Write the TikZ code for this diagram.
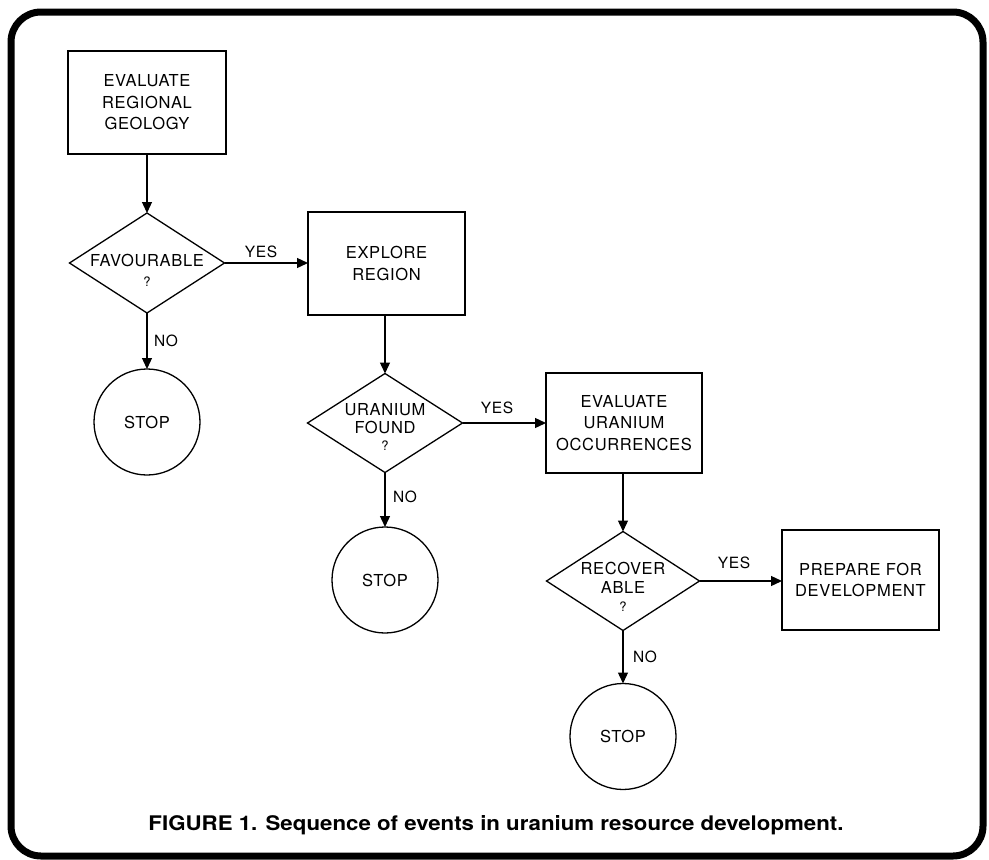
\documentclass[tikz,border=0pt]{standalone}
\usepackage{fontspec}
\setmainfont{TeX Gyre Heros}
\newfontfamily\boxfont{TeX Gyre Heros}[LetterSpace=4]
\newfontfamily\capfont{TeX Gyre Heros}
\usetikzlibrary{shapes.geometric,arrows.meta}
\begin{document}
\begin{tikzpicture}[x=1pt,y=-1pt,
  every node/.style={inner sep=0pt, outer sep=0pt},
  txt/.style={align=center, font=\boxfont\fontsize{16.5}{21.5}\selectfont},
  stepbox/.style={draw, line width=1.3pt, rectangle, txt},
  dia/.style={draw, line width=1.3pt, diamond},
  stopc/.style={draw, line width=1.3pt, circle, minimum size=106pt, txt},
  qmark/.style={font=\boxfont\fontsize{13}{13}\selectfont},
  lab/.style={font=\boxfont\fontsize{15.5}{15.5}\selectfont},
  arr/.style={line width=1.3pt, -{Triangle[length=11pt,width=10pt]}}
]
\useasboundingbox (0,0) rectangle (989,860);
\draw[line width=7pt, rounded corners=30pt] (11,12) rectangle (983,856);

% column 1
\node[stepbox, minimum width=158pt, minimum height=103pt] (b1) at (147,102.5) {EVALUATE\\REGIONAL\\GEOLOGY};
\node[dia, minimum width=155pt, minimum height=100pt] (d1) at (147,263) {};
\node[txt] (d1t) at (147,260) {FAVOURABLE};
\node[qmark] (d1q) at (147,282) {?};
\node[stopc] (c1) at (147,422) {STOP};

% column 2
\node[stepbox, minimum width=157pt, minimum height=103pt] (b2) at (386.5,263.5) {EXPLORE\\REGION};
\node[dia, minimum width=155pt, minimum height=99pt] (d2) at (385,423) {};
\node[txt, font=\boxfont\fontsize{16.5}{18}\selectfont] (d2t) at (385,419) {URANIUM\\FOUND};
\node[qmark] (d2q) at (385,446) {?};
\node[stopc] (c2) at (385,580) {STOP};

% column 3
\node[stepbox, minimum width=156pt, minimum height=100pt] (b3) at (624,423) {EVALUATE\\URANIUM\\OCCURRENCES};
\node[dia, minimum width=153pt, minimum height=99pt] (d3) at (623,581) {};
\node[txt, font=\boxfont\fontsize{16.5}{19}\selectfont] (d3t) at (623,577.5) {RECOVER\\ABLE};
\node[qmark] (d3q) at (623,607) {?};
\node[stopc] (c3) at (623,736.5) {STOP};

\node[stepbox, minimum width=157pt, minimum height=100pt] (b4) at (860.5,580) {PREPARE FOR\\DEVELOPMENT};

% connectors
\draw[arr] (b1.south) -- (d1.north);
\draw[arr] (d1.east) -- (d1.east -| b2.west);
\draw[arr] (d1.south) -- (c1.north);
\draw[arr] (d2.north |- b2.south) -- (d2.north);
\draw[arr] (d2.east) -- (d2.east -| b3.west);
\draw[arr] (d2.south) -- (c2.north);
\draw[arr] (d3.north |- b3.south) -- (d3.north);
\draw[arr] (d3.east) -- (d3.east -| b4.west);
\draw[arr] (d3.south) -- (c3.north);

% branch labels
\node[lab] (y1) at (261,252) {YES};
\node[lab] (n1) at (166,341) {NO};
\node[lab] (y2) at (497,408) {YES};
\node[lab] (n2) at (405,497) {NO};
\node[lab] (y3) at (734,563) {YES};
\node[lab] (n3) at (645,657) {NO};

% caption
\node (cap) at (496,825) {\resizebox{695pt}{15pt}{\capfont\bfseries FIGURE 1. Sequence of events in uranium resource development.}};
\end{tikzpicture}
\end{document}
